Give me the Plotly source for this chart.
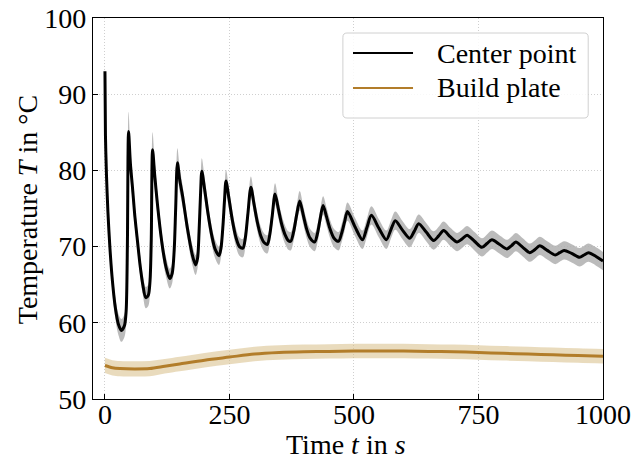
import plotly.graph_objects as go

# Center point temperature (mean) and half-width of its scatter band
center_time = [
    0, 1, 3, 6, 10, 15, 21, 27, 33, 39, 42.5, 45,
    47.4, 51, 55.5, 60, 65.5, 71, 76, 82, 87, 90.5, 93,
    95.6, 100, 105, 111, 117, 123, 130, 135, 139, 142,
    145.5, 150, 155.7, 165.8, 175.8, 182, 186, 189, 192,
    194.5, 200, 207, 214, 221, 229, 233, 237, 240,
    243, 249, 256, 263, 270, 277, 282, 287,
    293, 299, 306, 313, 320, 326, 331, 336,
    341.5, 348, 355, 362, 368, 373, 379, 385,
    391, 398, 405, 412, 421, 427, 432,
    438, 445, 452, 460, 469, 475, 481,
    487, 502, 517, 526,
    535, 550, 565, 574,
    583, 597, 612, 621,
    630, 645, 660, 670,
    680, 693, 707, 717,
    727, 742, 757, 767,
    777, 792, 807, 816,
    825, 839, 853, 863,
    873, 888, 904, 913,
    922, 937, 953, 962,
    971, 986, 1000,
]
center_temp = [
    93.0, 84.6, 79.5, 74.5, 69.8, 65.5, 61.9, 59.8, 59.0, 59.6, 61.5, 70.0,
    85.1, 81.0, 77.6, 74.0, 70.6, 67.3, 65.0, 63.3, 63.6, 65.5, 71.0,
    82.7, 79.3, 75.8, 72.2, 69.3, 67.2, 65.8, 66.5, 69.5, 75.0,
    81.0, 78.8, 76.7, 72.3, 68.8, 67.6, 68.5, 72.0, 77.0,
    79.9, 77.6, 74.3, 71.6, 69.7, 68.8, 69.8, 72.8, 76.0,
    78.6, 76.3, 73.4, 71.2, 70.0, 69.8, 71.2, 74.3,
    77.8, 75.7, 73.2, 71.4, 70.5, 70.3, 71.6, 74.1,
    76.9, 75.0, 72.9, 71.5, 70.8, 70.7, 72.0, 74.2,
    76.0, 74.2, 72.3, 71.1, 70.6, 71.8, 73.6,
    75.4, 73.9, 72.3, 71.1, 70.7, 71.7, 73.2,
    74.6, 72.6, 70.9, 72.5,
    74.1, 72.4, 70.9, 72.2,
    73.4, 72.2, 71.1, 72.0,
    73.0, 71.9, 70.8, 71.4,
    72.1, 71.3, 70.6, 71.0,
    71.5, 70.7, 69.9, 70.4,
    70.9, 70.3, 69.7, 70.1,
    70.6, 69.9, 69.2, 69.6,
    70.1, 69.5, 68.9, 69.2,
    69.5, 69.1, 68.6, 68.9,
    69.2, 68.7, 68.1,
]
center_band = [
    1.8, 3.0, 2.5, 2.0, 1.7, 1.5, 1.4, 1.4, 1.5, 1.5, 1.7, 2.5,
    2.6, 2.0, 1.6, 1.4, 1.3, 1.3, 1.3, 1.4, 1.4, 1.5, 2.0,
    2.3, 1.8, 1.5, 1.3, 1.3, 1.3, 1.3, 1.3, 1.4, 1.8,
    1.9, 1.6, 1.4, 1.3, 1.3, 1.3, 1.3, 1.4, 1.7,
    1.7, 1.5, 1.3, 1.2, 1.2, 1.2, 1.2, 1.3, 1.5,
    1.5, 1.4, 1.2, 1.2, 1.2, 1.2, 1.2, 1.3,
    1.4, 1.3, 1.2, 1.2, 1.2, 1.2, 1.2, 1.3,
    1.4, 1.2, 1.2, 1.2, 1.2, 1.2, 1.2, 1.2,
    1.3, 1.2, 1.2, 1.2, 1.2, 1.2, 1.2,
    1.2, 1.2, 1.2, 1.2, 1.2, 1.2, 1.2,
    1.2, 1.2, 1.2, 1.2,
    1.2, 1.2, 1.2, 1.2,
    1.2, 1.2, 1.2, 1.2,
    1.2, 1.2, 1.2, 1.2,
    1.2, 1.2, 1.2, 1.2,
    1.2, 1.2, 1.2, 1.2,
    1.2, 1.2, 1.2, 1.2,
    1.2, 1.2, 1.2, 1.2,
    1.2, 1.2, 1.2, 1.2,
    1.2, 1.2, 1.2, 1.2,
    1.2, 1.2, 1.2,
]

# Build plate temperature (mean) and half-width of its scatter band
plate_time = [0, 15, 30, 60, 90, 120, 150, 200, 250, 300, 350, 400,
              450, 500, 550, 600, 650, 700, 750, 800, 850, 900, 950, 1000]
plate_temp = [54.4, 54.1, 54.0, 53.95, 54.0, 54.3, 54.6, 55.1, 55.5, 55.9, 56.1, 56.2,
              56.25, 56.3, 56.3, 56.3, 56.25, 56.2, 56.1, 56.0, 55.9, 55.8, 55.7, 55.6]
plate_band = [1.0, 1.0, 1.0, 1.0, 1.0, 0.95, 0.95, 0.95, 0.95, 0.95, 0.95, 0.95,
              0.95, 0.95, 0.95, 0.95, 0.95, 0.95, 0.95, 0.95, 0.95, 0.95, 0.95, 0.95]

x_ticks = [0, 250, 500, 750, 1000]
y_ticks = [50, 60, 70, 80, 90, 100]

series_names = ["Center point", "Build plate"]
line_colors = ["#000000", "#b27d2a"]
band_colors = ["rgba(175,175,175,0.85)", "rgba(215,190,135,0.55)"]

x_title = "Time <i>t</i> in <i>s</i>"
y_title = "Temperature <i>T</i> in °C"

FONT = "Liberation Serif, Times New Roman, serif"

fig = go.Figure()


def add_series(t, y, w, name, lcolor, bcolor):
    upper = [a + b for a, b in zip(y, w)]
    lower = [a - b for a, b in zip(y, w)]
    fig.add_trace(go.Scatter(x=t, y=upper, mode="lines", line=dict(width=0, shape="spline"),
                             hoverinfo="skip", showlegend=False))
    fig.add_trace(go.Scatter(x=t, y=lower, mode="lines", line=dict(width=0, shape="spline"),
                             fill="tonexty", fillcolor=bcolor, hoverinfo="skip", showlegend=False))
    fig.add_trace(go.Scatter(x=t, y=y, mode="lines", name=name,
                             line=dict(color=lcolor, width=3, shape="spline", smoothing=0.8),
                             showlegend=False))


add_series(plate_time, plate_temp, plate_band, series_names[1], line_colors[1], band_colors[1])
add_series(center_time, center_temp, center_band, series_names[0], line_colors[0], band_colors[0])

axis_common = dict(
    showline=True, linecolor="black", linewidth=1.2, mirror=True,
    ticks="inside", ticklen=5, tickwidth=1, tickcolor="black",
    showgrid=True, gridcolor="#cfcfcf", gridwidth=1, griddash="1px,2px",
    zeroline=False, automargin=False,
    tickfont=dict(family=FONT, size=28, color="black"),
)

fig.update_xaxes(range=[-24, 1000], tickvals=x_ticks, ticktext=[str(v) for v in x_ticks],
                 ticklabelstandoff=-10, **axis_common)
fig.update_yaxes(range=[50, 100], tickvals=y_ticks, ticktext=[str(v) for v in y_ticks],
                 **axis_common)

# Legend box drawn in paper coordinates with rounded corners
x0, x1, y0, y1 = 0.490, 0.971, 0.7375, 0.9606
rx, ry = 0.008, 0.011
box_path = (f"M{x0+rx},{y1} L{x1-rx},{y1} Q{x1},{y1} {x1},{y1-ry} "
            f"L{x1},{y0+ry} Q{x1},{y0} {x1-rx},{y0} L{x0+rx},{y0} "
            f"Q{x0},{y0} {x0},{y0+ry} L{x0},{y1-ry} Q{x0},{y1} {x0+rx},{y1} Z")
shapes = [dict(type="path", xref="paper", yref="paper", path=box_path,
               line=dict(color="#d0d0d0", width=1), fillcolor="rgba(255,255,255,0.85)")]
annotations = []
legend_rows = [0.9081, 0.8163]
for name, color, yy in zip(series_names, line_colors, legend_rows):
    shapes.append(dict(type="line", xref="paper", yref="paper", x0=0.5098, x1=0.6275,
                       y0=yy, y1=yy, line=dict(color=color, width=2.2)))
    annotations.append(dict(xref="paper", yref="paper", x=0.6706, y=yy, text=name,
                            showarrow=False, xanchor="left", yanchor="middle",
                            font=dict(family=FONT, size=28, color="black")))

# Axis titles
annotations.append(dict(xref="paper", yref="paper", x=0.496, y=-0.120, text=x_title,
                        showarrow=False, xanchor="center", yanchor="middle",
                        font=dict(family=FONT, size=28, color="black")))
annotations.append(dict(xref="paper", yref="paper", x=-0.129, y=0.496, text=y_title,
                        showarrow=False, xanchor="center", yanchor="middle", textangle=-90,
                        font=dict(family=FONT, size=28, color="black")))

fig.update_layout(
    width=633, height=461,
    margin=dict(l=93, r=30, t=18, b=62),
    paper_bgcolor="white", plot_bgcolor="white",
    shapes=shapes, annotations=annotations,
    showlegend=False,
)

fig.write_html("out.html")
